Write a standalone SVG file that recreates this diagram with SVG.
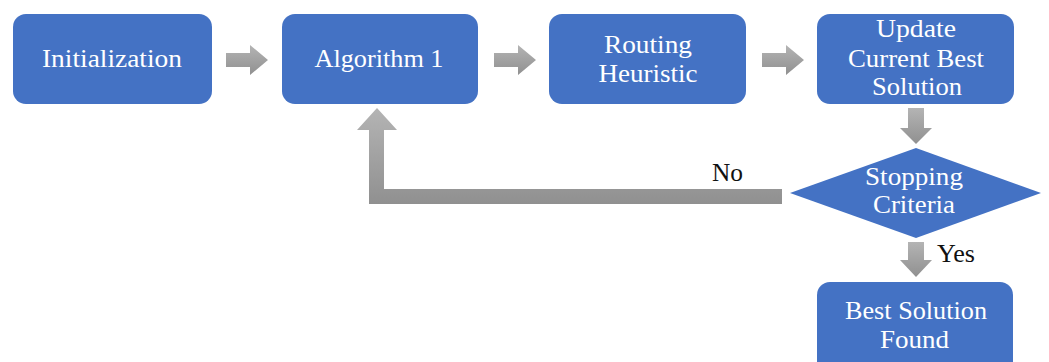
<svg xmlns="http://www.w3.org/2000/svg" width="1049" height="362" viewBox="0 0 1049 362">
  <defs>
    <linearGradient id="grayFill" x1="0" y1="0" x2="0" y2="1">
      <stop offset="0" stop-color="#b4b4b4"/>
      <stop offset="1" stop-color="#909090"/>
    </linearGradient>
    <style>
      .box { fill: #4472C4; }
      .lbl { font-family: "Liberation Serif", "Times New Roman", serif; font-size: 26px; fill: #ffffff; text-anchor: middle; }
      .note { font-family: "Liberation Serif", "Times New Roman", serif; font-size: 25px; fill: #111111; }
      .arrow { fill: url(#grayFill); }
    </style>
  </defs>

  <!-- connectors -->
  <g id="connectors">
    <polygon class="arrow" points="226,53 250,53 250,45 268,60 250,75 250,67 226,67"/>
    <polygon class="arrow" points="494,53 518,53 518,45 536,60 518,75 518,67 494,67"/>
    <polygon class="arrow" points="762,53 786,53 786,45 804,60 786,75 786,67 762,67"/>
    <polygon class="arrow" points="908,108 924,108 924,128 932,128 916,144 900,128 908,128"/>
    <polygon class="arrow" points="908,242 924,242 924,260 932,260 916,277 900,260 908,260"/>
    <polygon class="arrow" points="782,189 782,204 369,204 369,130 357,130 377,108 397,130 384,130 384,189"/>
    <text class="note" x="712" y="181" textLength="31" lengthAdjust="spacingAndGlyphs">No</text>
    <text class="note" x="937" y="262" textLength="38" lengthAdjust="spacingAndGlyphs">Yes</text>
  </g>

  <g id="init">
    <rect class="box" x="13" y="14" width="199" height="90" rx="13"/>
    <text class="lbl" x="112" y="67" textLength="140" lengthAdjust="spacingAndGlyphs">Initialization</text>
  </g>

  <g id="algorithm1">
    <rect class="box" x="282" y="14" width="196" height="90" rx="13"/>
    <text class="lbl" x="379" y="67" textLength="129" lengthAdjust="spacingAndGlyphs">Algorithm 1</text>
  </g>

  <g id="routing">
    <rect class="box" x="549" y="14" width="197" height="90" rx="13"/>
    <text class="lbl" x="648" y="53" textLength="88" lengthAdjust="spacingAndGlyphs">Routing</text>
    <text class="lbl" x="648" y="82" textLength="99" lengthAdjust="spacingAndGlyphs">Heuristic</text>
  </g>

  <g id="update">
    <rect class="box" x="817" y="14" width="197" height="90" rx="13"/>
    <text class="lbl" x="916" y="37" textLength="80" lengthAdjust="spacingAndGlyphs">Update</text>
    <text class="lbl" x="916" y="67" textLength="136" lengthAdjust="spacingAndGlyphs">Current Best</text>
    <text class="lbl" x="917" y="95" textLength="90" lengthAdjust="spacingAndGlyphs">Solution</text>
  </g>

  <g id="stopping">
    <polygon class="box" points="790,193 916,148 1041,193 916,238"/>
    <text class="lbl" x="914" y="185" textLength="98" lengthAdjust="spacingAndGlyphs">Stopping</text>
    <text class="lbl" x="914" y="213" textLength="82" lengthAdjust="spacingAndGlyphs">Criteria</text>
  </g>

  <g id="best">
    <rect class="box" x="817" y="282" width="196" height="100" rx="13"/>
    <text class="lbl" x="916" y="319" textLength="142" lengthAdjust="spacingAndGlyphs">Best Solution</text>
    <text class="lbl" x="914.5" y="348" textLength="69" lengthAdjust="spacingAndGlyphs">Found</text>
  </g>
</svg>
